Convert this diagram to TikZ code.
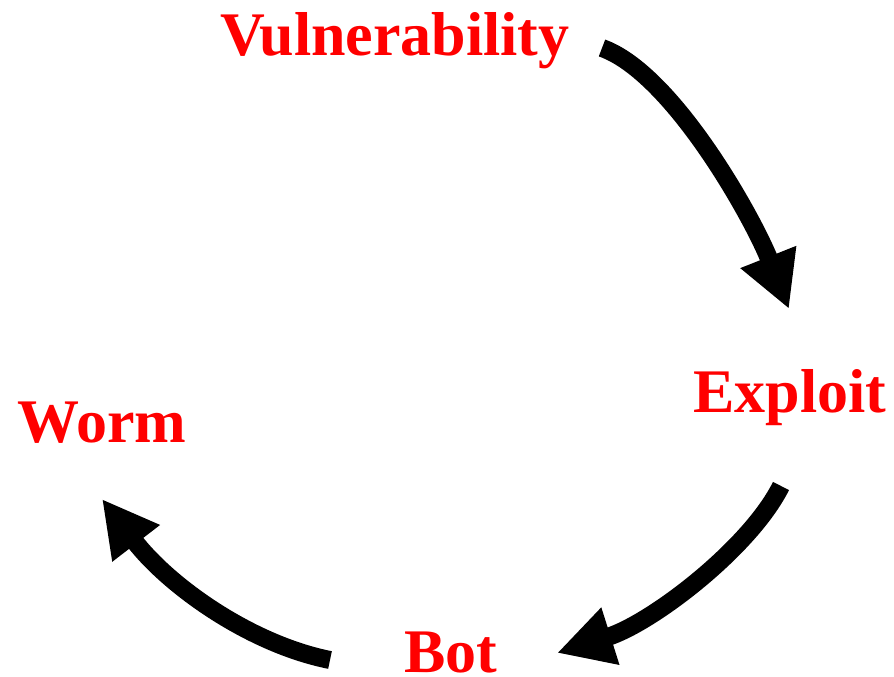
\documentclass[tikz,border=0pt]{standalone}
\usepackage{fontspec}
\setmainfont{Liberation Serif}
\usepackage{tikz}
\usetikzlibrary{arrows.meta}

\begin{document}
\begin{tikzpicture}[x=1pt,y=-1pt,
        stage/.style={text=red, font=\bfseries\fontsize{62}{70}\selectfont, anchor=base, inner sep=0pt},
        flow/.style={line width=18pt, -{Triangle[length=56pt,width=56pt]}}]
        \useasboundingbox (0,0) rectangle (894,677);
        \node[stage] (vuln) at (395,56) {Vulnerability};
        \node[stage] (expl) at (790,412) {Exploit};
        \node[stage] (worm) at (102,442) {Worm};
        \node[stage] (bot) at (451,672) {Bot};
        % arrow ends
        \coordinate (vulnout) at (602,48);
        \coordinate (explin) at (789,309);
        \coordinate (explout) at (781,486);
        \coordinate (botin) at (557,653);
        \coordinate (botout) at (330,660);
        \coordinate (wormin) at (102,499);
        \draw [flow] (vulnout) .. controls (672,73) and (752,216) .. (explin);
        \draw [flow] (explout) .. controls (750,548) and (652,623) .. (botin);
        \draw [flow] (botout) .. controls (250,644) and (169,586) .. (wormin);
\end{tikzpicture}
\end{document}
